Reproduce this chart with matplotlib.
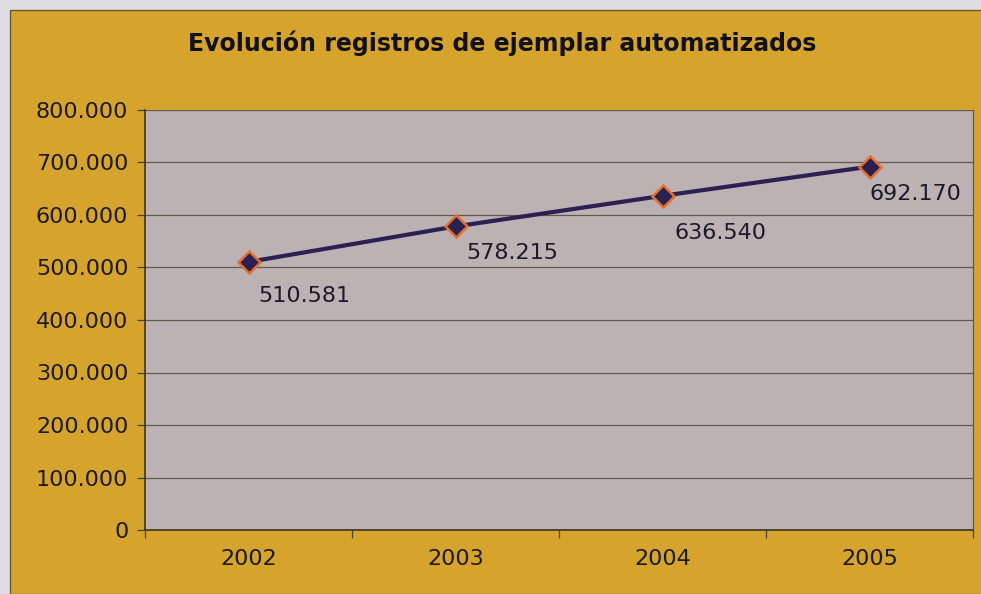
import matplotlib.pyplot as plt
from matplotlib.patches import Rectangle
from matplotlib.ticker import FuncFormatter, MultipleLocator

years = ["2002", "2003", "2004", "2005"]
registros = [510581, 578215, 636540, 692170]
labels = ["510.581", "578.215", "636.540", "692.170"]

GOLD = "#D6A42C"
PLOT_BG = "#BDB2B3"
NAVY = "#2B2052"
ORANGE = "#E2702E"


def miles(v, pos):
    return f"{int(v):,}".replace(",", ".")


fig = plt.figure(figsize=(9.81, 5.94), dpi=100, facecolor="#DEDDE2")
fig.patches.append(Rectangle((10 / 981, 0), 1, 1 - 10 / 594, transform=fig.transFigure,
                             facecolor=GOLD, edgecolor="#6B5A30", linewidth=1.0, zorder=-10))

ax = fig.add_axes([145 / 981, 64 / 594, 828 / 981, 420 / 594])
ax.set_facecolor(PLOT_BG)

x = list(range(len(years)))
ax.plot(x, registros, color=NAVY, linewidth=3, marker="D", markersize=11,
        markerfacecolor=NAVY, markeredgecolor=ORANGE, markeredgewidth=1.8, zorder=3)

# data labels below/right of each point
offsets = [(56, -34), (57, -27), (58, -37), (46, -27)]
for xi, yi, lab, (dx, dy) in zip(x, registros, labels, offsets):
    ax.annotate(lab, (xi, yi), xytext=(dx * 0.72, dy * 0.72), textcoords="offset points",
                ha="center", va="center", fontsize=16, color="#1A1A28")

ax.set_xlim(-0.5, len(years) - 0.5)
ax.set_ylim(0, 800000)
ax.yaxis.set_major_locator(MultipleLocator(100000))
ax.yaxis.set_major_formatter(FuncFormatter(miles))
ax.grid(axis="y", color="#5E5A50", linewidth=0.9)
ax.set_axisbelow(True)

ax.set_xticks(x)
ax.set_xticklabels(years)
ax.set_xticks([i - 0.5 for i in range(len(years) + 1)], minor=True)
ax.tick_params(axis="x", which="major", length=0, pad=14, labelsize=16, labelcolor="#1A1A1A")
ax.tick_params(axis="x", which="minor", length=6, width=0.9, color="#4A4030", direction="out")
ax.tick_params(axis="y", length=6, width=0.9, color="#4A4030", pad=6, labelsize=16,
               labelcolor="#1A1A1A")

for side in ["left", "bottom"]:
    ax.spines[side].set_color("#3A3528")
    ax.spines[side].set_linewidth(1.2)
ax.spines["top"].set_visible(False)
ax.spines["right"].set_color("#5E5A50")
ax.spines["right"].set_linewidth(0.9)

fig.text(502 / 981, 1 - 43 / 594, "Evolución registros de ejemplar automatizados",
         ha="center", va="center", fontsize=17, fontweight="bold", color="#111111")

fig.savefig("out.png", dpi=100, facecolor=fig.get_facecolor())
